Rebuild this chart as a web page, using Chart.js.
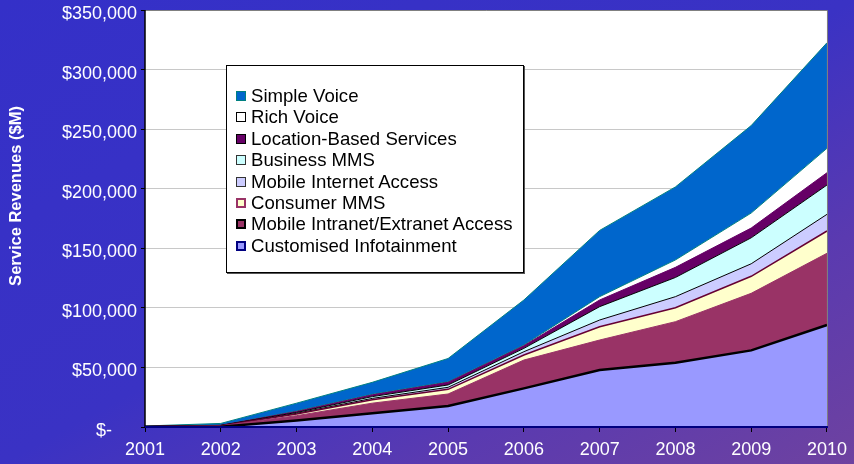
<!DOCTYPE html>
<html>
<head>
<meta charset="utf-8">
<script src="https://cdn.jsdelivr.net/npm/chart.js@4"></script>
<style>
  html, body { margin: 0; padding: 0; }
  body { width: 854px; height: 464px; overflow: hidden; }
  #wrap {
    position: relative; width: 854px; height: 464px;
    background: linear-gradient(to bottom right, #3430c8 0%, #3a32c4 50%, #5a3ab0 75%, #6e42a0 100%);
  }
  #chart { position: absolute; left: 0; top: 0; }
  #legend {
    position: absolute; left: 226px; top: 65px; width: 296px; height: 206px;
    background: #fff; border: 1px solid #000; box-shadow: 1px 1px 0 #555;
    font-family: 'Liberation Sans', Arial, sans-serif; font-size: 18.6px; color: #000;
  }
  #legend .item { position: absolute; left: 8px; height: 22px; line-height: 22px; white-space: nowrap; }
  #legend .box { position: absolute; left: 1px; top: 6px; width: 10px; height: 10px; box-sizing: border-box; }
  #legend .txt { position: absolute; left: 16px; top: 0; }
</style>
</head>
<body>
<div id="wrap">
  <canvas id="chart" width="854" height="464"></canvas>
  <div id="legend"></div>
</div>
<script>
// Données (valeurs par série, non cumulées, en $M)
const years = ['2001', '2002', '2003', '2004', '2005', '2006', '2007', '2008', '2009', '2010'];
const infotainment     = [0,   300, 5500, 11500, 17600, 32400, 47800, 54000, 64300, 85600];
const intranetAccess   = [300, 700, 4000,  8500, 10100, 23800, 25200, 34400, 47900, 60200];
const consumerMms      = [50,  100, 1500,  2800,  3900,  4200, 11200, 11700, 14300, 18700];
const mobileInternet   = [50,  100,  500,  1200,  1700,  2800,  5600,  9300, 10500, 14000];
const businessMms      = [50,  100,  700,  1500,  2000,  2800, 11200, 16100, 21800, 24600];
const locationServices = [50,  100,  800,  1500,  2200,  2200,  5600,  8500,  8200, 10300];
const richVoice        = [50,  100,  500,   500,   500,   600,  2800,  6200, 12600, 20500];
const simpleVoice      = [300, 1500, 6500, 10000, 19500, 37800, 55600, 61300, 73400, 88600];
const yTicks = [0, 50000, 100000, 150000, 200000, 250000, 300000, 350000];
const yTitle = 'Service Revenues ($M)';

(function () {
    'use strict';

    // bas de pile -> haut de pile
    const series = [
        { label: 'Customised Infotainment',        data: infotainment,     fill: '#9999ff', line: '#000000', width: 2.5, box: '#000080', boxW: 2 },
        { label: 'Mobile Intranet/Extranet Access', data: intranetAccess,   fill: '#993366', line: '#993366', width: 1,   box: '#000000', boxW: 2 },
        { label: 'Consumer MMS',                   data: consumerMms,      fill: '#ffffcc', line: '#660033', width: 1.5, box: '#993366', boxW: 2 },
        { label: 'Mobile Internet Access',         data: mobileInternet,   fill: '#ccccff', line: '#000000', width: 1,   box: '#333333', boxW: 1 },
        { label: 'Business MMS',                   data: businessMms,      fill: '#ccffff', line: '#000000', width: 1,   box: '#333333', boxW: 1 },
        { label: 'Location-Based Services',        data: locationServices, fill: '#660066', line: '#660066', width: 1,   box: '#000000', boxW: 1 },
        { label: 'Rich Voice',                     data: richVoice,        fill: '#ffffff', line: '#008080', width: 1,   box: '#000000', boxW: 1 },
        { label: 'Simple Voice',                   data: simpleVoice,      fill: '#0066cc', line: '#008080', width: 1,   box: '#008080', boxW: 1 }
    ];

    function money(v) {
        if (v === 0) return '$-     ';
        return '$' + v.toLocaleString('en-US');
    }

    const plotFrame = {
        id: 'plotFrame',
        beforeDraw(chart) {
            const a = chart.chartArea, ctx = chart.ctx;
            ctx.save();
            ctx.fillStyle = '#ffffff';
            ctx.fillRect(a.left, a.top, a.right - a.left, a.bottom - a.top);
            ctx.restore();
        },
        afterDatasetsDraw(chart) {
            const a = chart.chartArea, ctx = chart.ctx;
            ctx.save();
            ctx.lineWidth = 1;
            ctx.strokeStyle = '#808080';
            ctx.beginPath();
            ctx.moveTo(a.left, a.top + 0.5); ctx.lineTo(a.right + 0.5, a.top + 0.5); ctx.lineTo(a.right + 0.5, a.bottom);
            ctx.stroke();
            ctx.strokeStyle = '#000000';
            ctx.lineWidth = 1.5;
            ctx.beginPath(); ctx.moveTo(a.left, a.top); ctx.lineTo(a.left, a.bottom); ctx.stroke();
            ctx.strokeStyle = '#000080';
            ctx.lineWidth = 2;
            ctx.beginPath(); ctx.moveTo(a.left, a.bottom); ctx.lineTo(a.right + 1, a.bottom); ctx.stroke();
            ctx.restore();
        },
        afterDraw(chart) {
            // titre de l'axe Y, placé comme dans l'original (un peu au-dessus du centre)
            const ctx = chart.ctx;
            ctx.save();
            ctx.translate(16, 196);
            ctx.rotate(-Math.PI / 2);
            ctx.fillStyle = '#ffffff';
            ctx.font = "bold 16.5px 'Liberation Sans', Arial, sans-serif";
            ctx.textAlign = 'center';
            ctx.textBaseline = 'middle';
            ctx.fillText(yTitle, 0, 0);
            ctx.restore();
        }
    };

    function buildLegend() {
        const el = document.getElementById('legend');
        const top = series.slice().reverse();
        top.forEach(function (s, i) {
            const item = document.createElement('div');
            item.className = 'item';
            item.style.top = (19 + i * 21.4) + 'px';
            const box = document.createElement('span');
            box.className = 'box';
            box.style.background = s.fill;
            box.style.border = s.boxW + 'px solid ' + s.box;
            const txt = document.createElement('span');
            txt.className = 'txt';
            txt.textContent = s.label;
            item.appendChild(box);
            item.appendChild(txt);
            el.appendChild(item);
        });
    }

    Chart.defaults.font.family = "'Liberation Sans', Arial, sans-serif";
    Chart.defaults.color = '#ffffff';

    new Chart(document.getElementById('chart'), {
        type: 'line',
        data: {
            labels: years,
            datasets: series.map(function (s, i) {
                return {
                    label: s.label,
                    data: s.data,
                    fill: i === 0 ? 'origin' : '-1',
                    backgroundColor: s.fill,
                    borderColor: s.line,
                    borderWidth: s.width,
                    pointRadius: 0,
                    tension: 0
                };
            })
        },
        options: {
            responsive: false,
            animation: false,
            layout: { padding: { top: 10, right: 26, left: 0, bottom: 0 } },
            plugins: { legend: { display: false }, tooltip: { enabled: false } },
            scales: {
                x: {
                    offset: false,
                    border: { display: false },
                    grid: { drawOnChartArea: false, drawTicks: true, tickLength: 5, tickColor: '#000000' },
                    ticks: { font: { size: 18 }, color: '#ffffff', padding: 7, maxRotation: 0, autoSkip: false },
                    afterFit: function (scale) { scale.height = 37; }
                },
                y: {
                    stacked: true,
                    min: 0,
                    max: 350000,
                    border: { display: false },
                    afterBuildTicks: function (scale) { scale.ticks = yTicks.map(function (v) { return { value: v }; }); },
                    grid: { color: '#c8c8c8', tickColor: '#000000', tickLength: 4 },
                    ticks: { font: { size: 18 }, color: '#ffffff', padding: 4, labelOffset: 4, callback: money },
                    afterFit: function (scale) {
                        scale.width = 145;
                        scale.paddingTop = 0;
                        scale.paddingBottom = 0;
                    }
                }
            }
        },
        plugins: [plotFrame]
    });

    buildLegend();
})();
</script>
</body>
</html>
